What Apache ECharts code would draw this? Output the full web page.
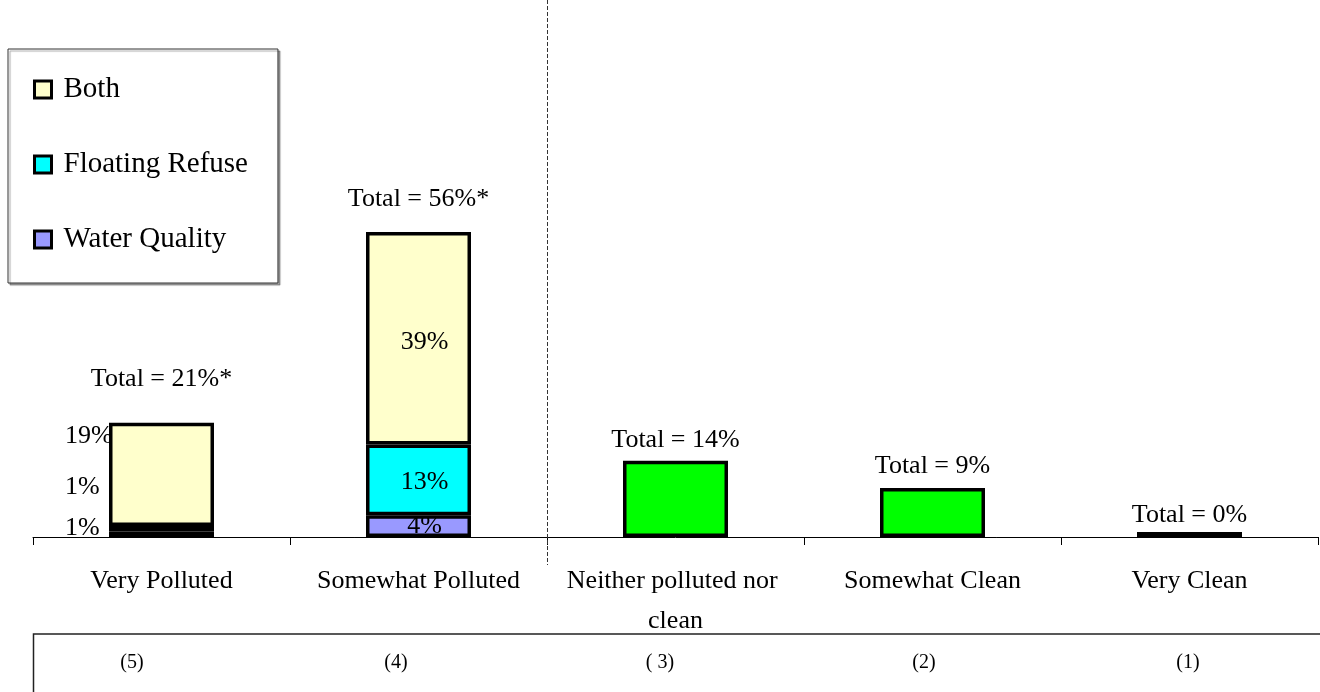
<!DOCTYPE html>
<html>
<head>
<meta charset="utf-8">
<script src="https://cdn.jsdelivr.net/npm/echarts@6/dist/echarts.min.js"></script>
<style>
html,body{margin:0;padding:0;background:#fff;}
#main{width:1320px;height:692px;}
</style>
</head>
<body>
<div id="main"></div>
<script>
const categories = ['Very Polluted', 'Somewhat Polluted', 'Neither polluted nor clean', 'Somewhat Clean', 'Very Clean'];
const scaleCodes = ['(5)', '(4)', '( 3)', '(2)', '(1)'];
const waterQuality = [1, 4, null, null, null];
const floatingRefuse = [1, 13, null, null, null];
const both = [19, 39, null, null, null];
const cleanTotals = [null, null, 14, 9, 0];
const totalLabels = ['Total = 21%*', 'Total = 56%*', 'Total = 14%', 'Total = 9%', 'Total = 0%'];

const FONT = 'Liberation Serif';
const chart = echarts.init(document.getElementById('main'));

const pct = p => p.value + '%';
function segData(values, firstDy, secondDy) {
  return values.map((v, i) => {
    if (v == null) return v;
    if (i === 0) {
      return { value: v, label: { show: true, position: 'left', distance: 44, align: 'left', offset: [0, firstDy], formatter: pct } };
    }
    return { value: v, label: { show: true, position: 'inside', offset: [6, secondDy], formatter: pct } };
  });
}
const totalDistance = [30, 20, 8, 9, 9];
const totalData = totalLabels.map((t, i) => ({ value: 0, label: { distance: totalDistance[i] } }));
const cleanData = cleanTotals.map((v, i) => (v === 0 ? { value: v, itemStyle: { color: '#000' } } : v));

const barBase = {
  type: 'bar', stack: 'a', barWidth: 105, xAxisIndex: 0, yAxisIndex: 0,
  label: { color: '#000', fontFamily: FONT, fontSize: 26 }
};
const border = { borderColor: '#000', borderWidth: 3.5 };

chart.setOption({
  animation: false,
  backgroundColor: '#fff',
  textStyle: { fontFamily: FONT },
  legend: {
    data: ['Both', 'Floating Refuse', 'Water Quality'],
    orient: 'vertical', left: 8, top: 49,
    padding: [26, 30, 29, 25],
    itemGap: 46, itemWidth: 17, itemHeight: 17, icon: 'rect',
    itemStyle: { borderColor: '#000', borderWidth: 3 },
    textStyle: { fontFamily: FONT, fontSize: 29, color: '#000', padding: [0, 0, 0, 7] },
    backgroundColor: '#fff', borderColor: '#333', borderWidth: 1,
    shadowColor: 'rgba(0,0,0,0.35)', shadowOffsetX: 2, shadowOffsetY: 2, shadowBlur: 1,
    selectedMode: false
  },
  grid: [
    { left: 33, right: 2, top: 47, bottom: 155 },
    { left: 0, right: 0, top: 634, height: 58 }
  ],
  xAxis: [
    {
      type: 'category', gridIndex: 0, data: categories,
      axisLine: { lineStyle: { color: '#000', width: 1 } },
      axisTick: { show: true, length: 8, interval: 0, lineStyle: { color: '#000' } },
      axisLabel: { interval: 0, color: '#000', fontFamily: FONT, fontSize: 26, margin: 24, lineHeight: 40, width: 220, overflow: 'break' }
    },
    {
      type: 'category', gridIndex: 1, data: scaleCodes, position: 'top',
      axisLine: { show: false }, axisTick: { show: false },
      axisLabel: { inside: true, interval: 0, color: '#000', fontFamily: FONT, fontSize: 20, margin: 19 }
    }
  ],
  yAxis: [
    { type: 'value', gridIndex: 0, min: 0, max: 90, show: false },
    { type: 'value', gridIndex: 1, show: false }
  ],
  series: [
    Object.assign({}, barBase, {
      name: 'Water Quality', data: segData(waterQuality, -6, 0),
      itemStyle: Object.assign({ color: '#9999FF' }, border)
    }),
    Object.assign({}, barBase, {
      name: 'Floating Refuse', data: segData(floatingRefuse, -42, 2),
      itemStyle: Object.assign({ color: '#00FFFF' }, border)
    }),
    Object.assign({}, barBase, {
      name: 'Both', data: segData(both, -38, 4),
      itemStyle: Object.assign({ color: '#FFFFCC' }, border)
    }),
    Object.assign({}, barBase, {
      name: 'Clean total', data: cleanData, barMinHeight: 5,
      itemStyle: Object.assign({ color: '#00FF00' }, border)
    }),
    Object.assign({}, barBase, {
      name: 'Total', data: totalData,
      itemStyle: { color: 'rgba(0,0,0,0)', borderWidth: 0 },
      label: { show: true, position: 'top', color: '#000', fontFamily: FONT, fontSize: 26,
        formatter: p => totalLabels[p.dataIndex] }
    })
  ]
});

const c1 = chart.convertToPixel({ xAxisIndex: 0 }, categories[1]);
const c2 = chart.convertToPixel({ xAxisIndex: 0 }, categories[2]);
const divX = Math.round((c1 + c2) / 2) + 0.5;
chart.setOption({
  graphic: [
    { type: 'line', silent: true, z: 10, shape: { x1: divX, y1: 0, x2: divX, y2: 565 },
      style: { stroke: '#333', lineWidth: 1, lineDash: [4, 2] } },
    { type: 'rect', silent: true, z: 10, shape: { x: 33.5, y: 634, width: 1400, height: 100 },
      style: { fill: 'none', stroke: '#222', lineWidth: 1.5 } }
  ]
});
</script>
</body>
</html>
